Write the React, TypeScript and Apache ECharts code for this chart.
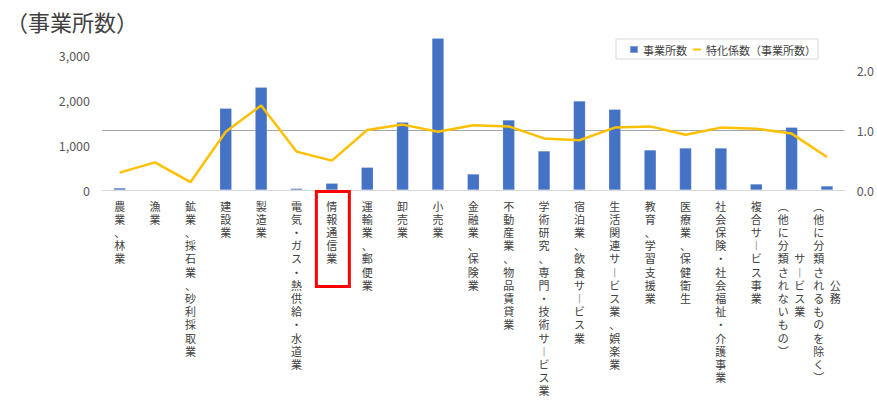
import React, { useEffect, useRef } from "react";
import * as echarts from "echarts";

const categories: string[] = [
  "農業、林業",
  "漁業",
  "鉱業、採石業、砂利採取業",
  "建設業",
  "製造業",
  "電気・ガス・熱供給・水道業",
  "情報通信業",
  "運輸業、郵便業",
  "卸売業",
  "小売業",
  "金融業、保険業",
  "不動産業、物品賃貸業",
  "学術研究、専門・技術サービス業",
  "宿泊業、飲食サービス業",
  "生活関連サービス業、娯楽業",
  "教育、学習支援業",
  "医療業、保健衛生",
  "社会保険・社会福祉・介護事業",
  "複合サービス事業",
  "サービス業（他に分類されないもの）",
  "公務（他に分類されるものを除く）",
];

const establishments: number[] = [
  45, 12, 3, 1815, 2282, 35, 150, 504, 1504, 3370, 355, 1555, 867, 1978, 1793,
  889, 933, 933, 133, 1393, 89,
];

const specializationCoef: number[] = [
  0.29, 0.46, 0.13, 0.97, 1.41, 0.64, 0.49, 1.0, 1.09, 0.97, 1.08, 1.06, 0.86,
  0.83, 1.04, 1.06, 0.92, 1.04, 1.02, 0.94, 0.55,
];

const seriesNames: string[] = ["事業所数", "特化係数（事業所数）"];
const titleText = "（事業所数）";
const highlighted = "情報通信業";

const FONT = '"Noto Sans CJK JP", "Noto Sans", sans-serif';

const vmap: Record<string, string> = { "（": "︵", "）": "︶", "ー": "︱" };
const toV = (s: string) => Array.from(s).map((c) => vmap[c] || c);

function verticalLabel(name: string): string {
  const i = name.indexOf("（");
  if (i <= 0) return toV(name).join("\n");
  const right = toV(name.slice(0, i));
  const left = toV(name.slice(i));
  const rows = Math.max(left.length, right.length);
  const off = Math.ceil((left.length - right.length) / 2);
  const lines: string[] = [];
  for (let r = 0; r < rows; r++) {
    const l = left[r] || "\u3000";
    const rc = right[r - off] || "\u3000";
    lines.push(l + "\u2002" + rc);
  }
  return lines.join("\n");
}

export default function App() {
  const ref = useRef<HTMLDivElement>(null);
  useEffect(() => {
    if (!ref.current) return;
    const chart = echarts.init(ref.current, null, { renderer: "svg" });
    const option: any = {
      animation: false,
      backgroundColor: "#ffffff",
      textStyle: { fontFamily: FONT },
      title: {
        text: titleText,
        left: 6,
        top: 10,
        padding: 0,
        textStyle: { fontSize: 22, fontWeight: "normal", color: "#404040", fontFamily: FONT },
      },
      legend: {
        left: 616,
        top: 39,
        padding: [5, 2, 4, 13],
        itemGap: 6,
        itemWidth: 8,
        itemHeight: 7,
        borderColor: "#d9d9d9",
        borderWidth: 1,
        textStyle: { fontSize: 11, color: "#404040", fontFamily: FONT },
        data: [
          { name: seriesNames[0], icon: "rect" },
          { name: seriesNames[1], icon: "path://M0,0h10v2.5h-10z", itemStyle: { color: "#FFC000" } },
        ],
      },
      grid: { left: 102, right: 31, top: 32.5, bottom: 210, containLabel: false },
      xAxis: {
        type: "category",
        data: categories,
        boundaryGap: true,
        axisTick: { show: false },
        axisLine: { lineStyle: { color: "#d9d9d9", width: 1 } },
        axisLabel: {
          interval: 0,
          margin: 9,
          fontSize: 11,
          lineHeight: 13.2,
          color: "#404040",
          fontFamily: FONT,
          verticalAlign: "top",
          formatter: (v: string) => verticalLabel(v),
        },
      },
      yAxis: [
        {
          type: "value",
          min: 0,
          max: 3500,
          interval: 1000,
          splitLine: { show: false },
          axisLine: { show: false },
          axisTick: { show: false },
          axisLabel: {
            margin: 12,
            fontSize: 12.5,
            color: "#595959",
            fontFamily: FONT,
            showMaxLabel: false,
            formatter: (v: number) => (v % 1000 === 0 ? v.toLocaleString("en-US") : ""),
          },
        },
        {
          type: "value",
          min: 0,
          max: 2.625,
          interval: 1,
          splitLine: { show: false },
          axisLine: { show: false },
          axisTick: { show: false },
          axisLabel: {
            margin: 12,
            fontSize: 12.5,
            color: "#595959",
            fontFamily: FONT,
            showMaxLabel: false,
            formatter: (v: number) => (Number.isInteger(v) ? v.toFixed(1) : ""),
          },
        },
      ],
      series: [
        {
          name: seriesNames[0],
          type: "bar",
          yAxisIndex: 0,
          data: establishments,
          barWidth: 12,
          itemStyle: {
            color: "#4472C4",
            borderColor: "rgba(255,255,255,0.35)",
            borderWidth: 0.5,
          },
          z: 2,
        },
        {
          name: seriesNames[1],
          type: "line",
          yAxisIndex: 1,
          data: specializationCoef,
          symbol: "none",
          lineStyle: { color: "#FFC000", width: 2.5 },
          itemStyle: { color: "#FFC000" },
          z: 3,
          markLine: {
            silent: true,
            symbol: "none",
            label: { show: false },
            lineStyle: { color: "#a6a6a6", width: 1, type: "solid" },
            data: [{ yAxis: 1 }],
            z: 1,
          },
        },
      ],
    };
    chart.setOption(option);
    const cx = chart.convertToPixel({ xAxisIndex: 0 }, highlighted) as number;
    const cy = chart.convertToPixel({ yAxisIndex: 0 }, 0) as number;
    chart.setOption({
      graphic: [
        {
          type: "rect",
          shape: { x: cx - 15.5, y: cy + 1.5, width: 33, height: 95 },
          style: { fill: "none", stroke: "#ff0000", lineWidth: 3 },
          z: 10,
        },
      ],
    });
    return () => chart.dispose();
  }, []);
  return (
    <div
      ref={ref}
      style={{ position: "absolute", left: 0, top: 0, width: 877, height: 400, background: "#fff" }}
    />
  );
}
